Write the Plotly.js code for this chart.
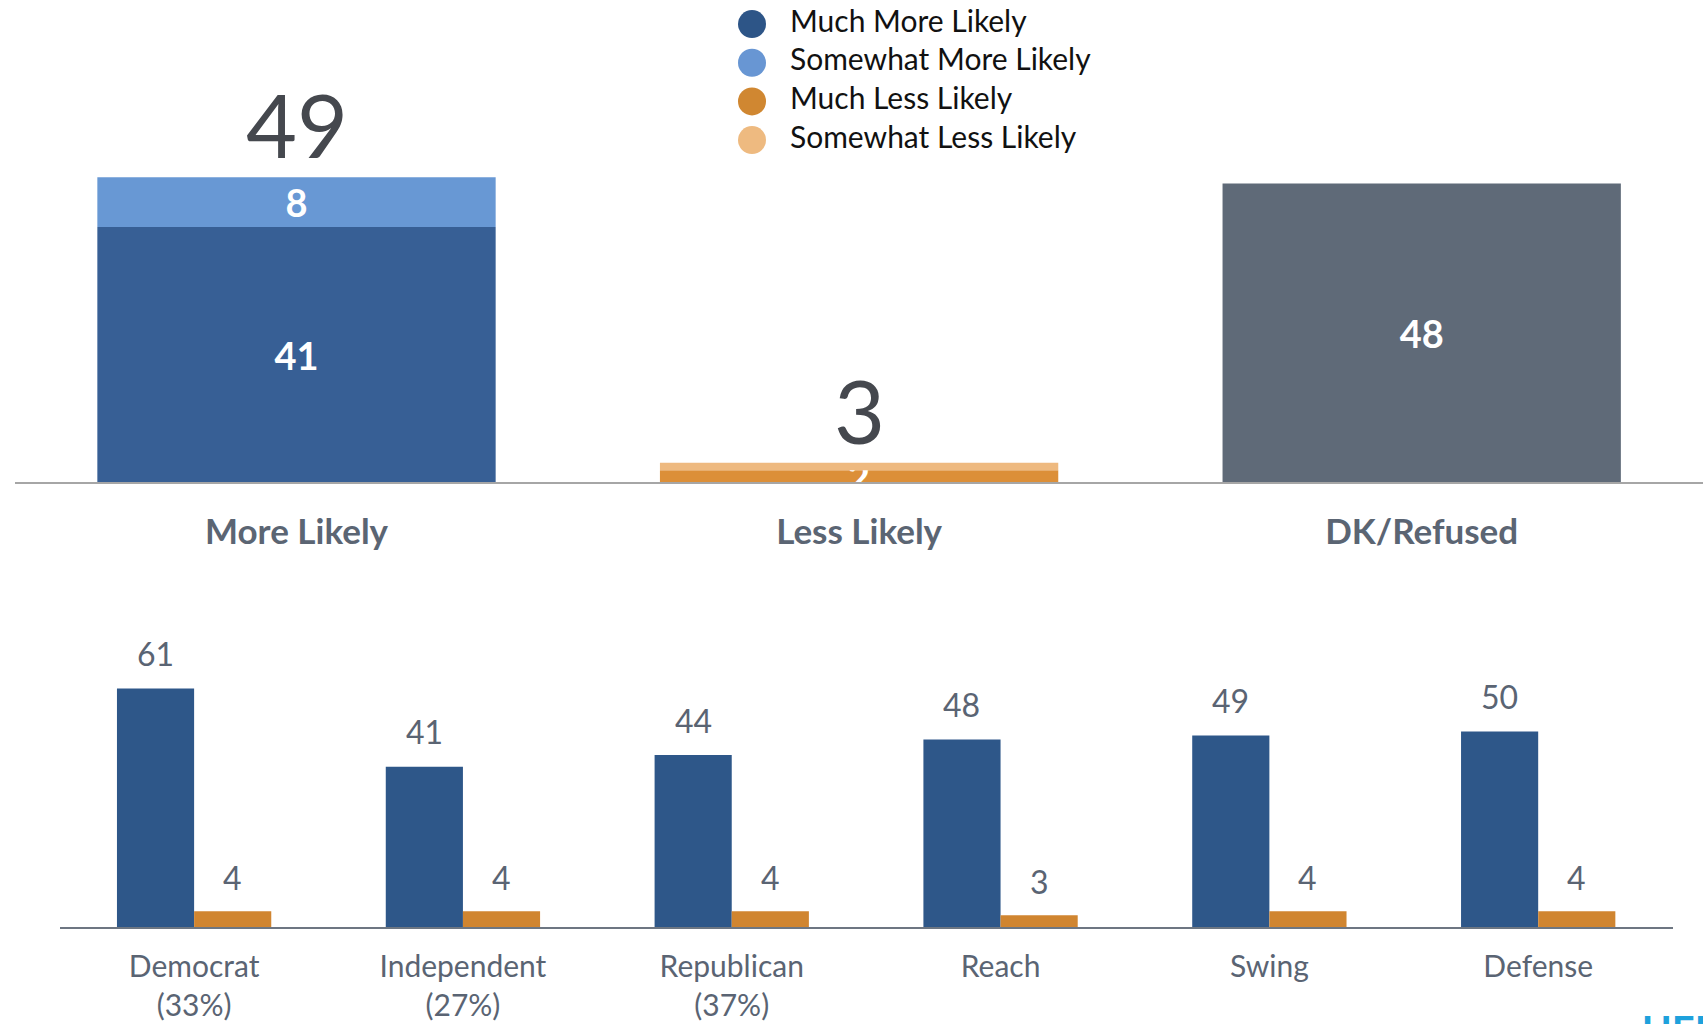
<!DOCTYPE html>
<html>
<head>
<meta charset="utf-8">
<script src="https://cdn.plot.ly/plotly-3.0.1.min.js"></script>
<style>html,body{margin:0;padding:0;background:#fff;}#chart{width:1703px;height:1024px;}</style>
</head>
<body>
<div id="chart"></div>
<script>
// ---------- DATA ----------
const seriesNames = ['Much More Likely', 'Somewhat More Likely', 'Much Less Likely', 'Somewhat Less Likely'];
const seriesColors = ['#2d5587', '#6896d3', '#d08731', '#eeba80'];

const topCategories = ['More Likely', 'Less Likely', 'DK/Refused'];
const muchMoreTop = [41, null, null];
const somewhatMoreTop = [8, null, null];
const muchLessTop = [null, 1.9, null];
const somewhatLessTop = [null, 1.2, null];
const dkRefusedTop = [null, null, 48];

const segmentLabels = ['Democrat<br>(33%)', 'Independent<br>(27%)', 'Republican<br>(37%)', 'Reach', 'Swing', 'Defense'];
const muchMoreBySegment = [61, 41, 44, 48, 49, 50];
const muchLessBySegment = [4, 4, 4, 3, 4, 4];

// ---------- STYLE ----------
const FONT = 'Lato, "Open Sans", sans-serif';
const labelGrey = '#5a6473';
const topBarWidth = 0.708;
const botBarWidth = 0.287;

const lbl = arr => arr.map(v => v == null ? '' : String(Math.round(v)));
const sum2 = (a, b) => a.map((v, i) => (v == null && b[i] == null) ? null : (v || 0) + (b[i] || 0));

const moreTotals = sum2(muchMoreTop, somewhatMoreTop);
const lessTotals = sum2(muchLessTop, somewhatLessTop);

const insideFont = {family: FONT, size: 38, color: '#ffffff', weight: 'bold'};

function topBar(name, y, base, color, showText) {
  const t = {
    type: 'bar', name: name, x: topCategories, y: y, xaxis: 'x', yaxis: 'y',
    width: topBarWidth, marker: {color: color}, showlegend: false, hoverinfo: 'skip'
  };
  if (base) t.base = base.map(v => v == null ? 0 : v);
  if (showText) {
    t.text = lbl(y);
    t.textposition = 'inside';
    t.insidetextanchor = 'middle';
    t.constraintext = 'none';
    t.textangle = 0;
    t.textfont = insideFont;
  }
  return t;
}

const traces = [
  topBar('Much More Likely', muchMoreTop, null, '#375f95', true),
  topBar('Somewhat More Likely', somewhatMoreTop, muchMoreTop, '#6898d4', true),
  topBar('Much Less Likely', muchLessTop, null, '#dc8f38', true),
  topBar('Somewhat Less Likely', somewhatLessTop, muchLessTop, '#eeb97f', false),
  topBar('DK/Refused', dkRefusedTop, null, '#5f6a78', true),
  {
    type: 'bar', name: 'Much More Likely', x: segmentLabels, y: muchMoreBySegment,
    xaxis: 'x2', yaxis: 'y2', width: botBarWidth, offset: -botBarWidth,
    marker: {color: '#2e5789'}, showlegend: false, hoverinfo: 'skip'
  },
  {
    type: 'bar', name: 'Much Less Likely', x: segmentLabels, y: muchLessBySegment,
    xaxis: 'x2', yaxis: 'y2', width: botBarWidth, offset: 0,
    marker: {color: '#d08530'}, showlegend: false, hoverinfo: 'skip'
  },
  // legend markers
  {
    type: 'scatter', mode: 'markers', x: seriesNames.map(() => 0), y: seriesNames.map((_, i) => i),
    xaxis: 'x3', yaxis: 'y3', marker: {size: 28, color: seriesColors},
    showlegend: false, hoverinfo: 'skip', cliponaxis: false
  },
  {
    type: 'scatter', mode: 'text', x: seriesNames.map(() => 1), y: seriesNames.map((_, i) => i),
    xaxis: 'x3', yaxis: 'y3', text: seriesNames, textposition: 'middle right',
    textfont: {family: FONT, size: 30, color: '#111111'},
    showlegend: false, hoverinfo: 'skip', cliponaxis: false
  }
];

// ---------- ANNOTATIONS ----------
const annotations = [];
const totals = topCategories.map((c, i) => {
  if (moreTotals[i] != null) return moreTotals[i];
  if (lessTotals[i] != null) return lessTotals[i];
  return null;
});
totals.forEach((t, i) => {
  if (t == null) return;
  annotations.push({
    xref: 'x', yref: 'y', x: i, y: t, text: String(Math.round(t)), showarrow: false,
    yanchor: 'middle', yshift: 53, font: {family: FONT, size: 88, color: '#45484e'}
  });
});
segmentLabels.forEach((s, i) => {
  annotations.push({
    xref: 'x2', yref: 'y2', x: i - botBarWidth / 2, y: muchMoreBySegment[i],
    text: String(muchMoreBySegment[i]), showarrow: false, yanchor: 'middle', yshift: 35,
    font: {family: FONT, size: 32, color: labelGrey}
  });
  annotations.push({
    xref: 'x2', yref: 'y2', x: i + botBarWidth / 2, y: muchLessBySegment[i],
    text: String(muchLessBySegment[i]), showarrow: false, yanchor: 'middle', yshift: 34,
    font: {family: FONT, size: 32, color: labelGrey}
  });
});
// cropped logo fragment at bottom right
annotations.push({
  xref: 'paper', yref: 'paper', x: 1640 / 1703, y: 0, xanchor: 'left', yanchor: 'top', yshift: 20,
  text: 'UEF', showarrow: false, font: {family: FONT, size: 40, color: '#1ea1dc', weight: 'bold'}
});

const hidden = {visible: false, fixedrange: true};

const layout = {
  width: 1703, height: 1024,
  margin: {l: 0, r: 0, t: 0, b: 0, pad: 0},
  paper_bgcolor: '#ffffff', plot_bgcolor: 'rgba(0,0,0,0)',
  barmode: 'overlay',
  showlegend: false,
  hovermode: false,
  font: {family: FONT},
  xaxis: {
    domain: [15.2 / 1703, 1], range: [-0.5, 2.5], type: 'category', anchor: 'y',
    showline: true, linecolor: '#a6a6a6', linewidth: 2, ticks: '', showgrid: false, zeroline: false,
    tickfont: {family: FONT, size: 35, color: '#5b6573', weight: 'bold'}, ticklabelstandoff: 18,
    fixedrange: true
  },
  yaxis: Object.assign({domain: [(1024 - 482) / 1024, (1024 - 140) / 1024], range: [0, 55], anchor: 'x'}, hidden),
  xaxis2: {
    domain: [59.7 / 1703, 1672.6 / 1703], range: [-0.5, 5.5], type: 'category', anchor: 'y2',
    showline: true, linecolor: '#6d7682', linewidth: 2, ticks: '', showgrid: false, zeroline: false,
    tickfont: {family: FONT, size: 30, color: labelGrey}, ticklabelstandoff: 12,
    fixedrange: true
  },
  yaxis2: Object.assign({domain: [(1024 - 927) / 1024, (1024 - 653.4) / 1024], range: [0, 70], anchor: 'x2'}, hidden),
  xaxis3: Object.assign({domain: [752 / 1703, 1132 / 1703], range: [0, 10], anchor: 'y3'}, hidden),
  yaxis3: Object.assign({domain: [0.8443, 0.9954], range: [3.5, -0.5], anchor: 'x3'}, hidden),
  annotations: annotations
};

Plotly.newPlot('chart', traces, layout, {staticPlot: true, displayModeBar: false});
</script>
</body>
</html>
